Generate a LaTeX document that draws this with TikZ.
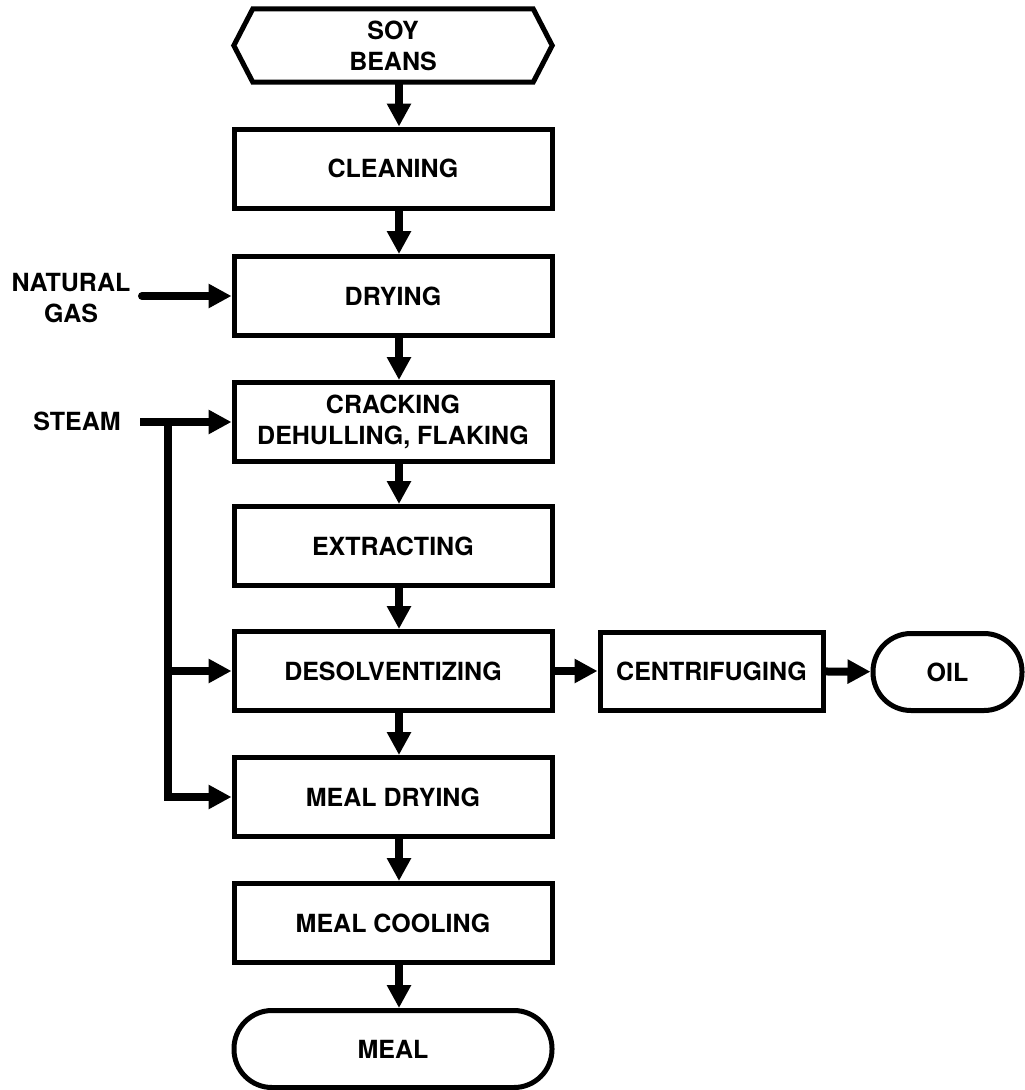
\documentclass[tikz,border=0pt]{standalone}
\usepackage{fontspec}
\setmainfont{TeX Gyre Heros}
\usetikzlibrary{arrows.meta}
\begin{document}
\begin{tikzpicture}[x=1pt,y=-1pt,
  font=\fontsize{25}{31}\selectfont\bfseries,
  box/.style={draw,line width=5pt,minimum width=318pt,minimum height=79pt,inner sep=0pt,align=center},
  term/.style={draw,line width=5pt,rounded corners=38pt,minimum height=77pt,inner sep=0pt,align=center},
  lbl/.style={align=center,inner sep=0pt},
  flow/.style={line width=8pt,-{Triangle[length=23pt,width=23pt]}},
  pipe/.style={line width=8pt}]
\useasboundingbox (0,0) rectangle (1025,1090);
% source hexagon
\node[lbl,minimum width=280pt,minimum height=73pt] (soy) at (393,45.5) {SOY\\BEANS};
\draw[line width=5pt,line join=miter] (soy.north west) -- (soy.north east) -- ([xshift=19pt]soy.east) -- (soy.south east) -- (soy.south west) -- ([xshift=-19pt]soy.west) -- cycle;
\node[box] (clean) at (393,168.5) {CLEANING};
\node[box] (dry) at (393,296) {DRYING};
\node[box] (crack) at (393,422) {CRACKING\\DEHULLING, FLAKING};
\node[box] (extract) at (393,546) {EXTRACTING};
\node[box] (desolv) at (393,671) {DESOLVENTIZING};
\node[box] (mdry) at (393,797) {MEAL DRYING};
\node[box] (mcool) at (393,923) {MEAL COOLING};
\node[term,minimum width=318pt] (meal) at (393,1049) {MEAL};
\node[box,minimum width=223pt,minimum height=78pt] (centri) at (711.5,671) {CENTRIFUGING};
\node[term,minimum width=149pt] (oil) at (947.5,672) {OIL};
\node[lbl] (gas) at (71,298) {NATURAL\\GAS};
\node[lbl] (steam) at (77,421) {STEAM};
% main flow
\draw[flow] ([xshift=6pt]soy.south) -- ([xshift=6pt]clean.north);
\draw[flow] ([xshift=6pt]clean.south) -- ([xshift=6pt]dry.north);
\draw[flow] ([xshift=6pt]dry.south) -- ([xshift=6pt]crack.north);
\draw[flow] ([xshift=6pt]crack.south) -- ([xshift=6pt]extract.north);
\draw[flow] ([xshift=6pt]extract.south) -- ([xshift=6pt]desolv.north);
\draw[flow] ([xshift=6pt]desolv.south) -- ([xshift=6pt]mdry.north);
\draw[flow] ([xshift=6pt]mdry.south) -- ([xshift=6pt]mcool.north);
\draw[flow] ([xshift=6pt]mcool.south) -- ([xshift=6pt]meal.north);
\draw[flow] (desolv) -- (centri);
\draw[flow] (centri) -- (oil);
% inputs
\coordinate (gasstart) at (142,296);
\draw[flow,line cap=round] (gasstart) -- (dry.west);
\coordinate (steamstart) at (140,422);
\coordinate (junc) at (168,422);
\coordinate (bend) at (168,797);
\draw[flow] (steamstart) -- (crack.west);
\draw[pipe] (junc) -- ([yshift=4pt]bend);
\draw[flow] ([xshift=-4pt]bend) -- (mdry.west);
\draw[flow] (junc |- desolv.west) -- (desolv.west);
\end{tikzpicture}
\end{document}
